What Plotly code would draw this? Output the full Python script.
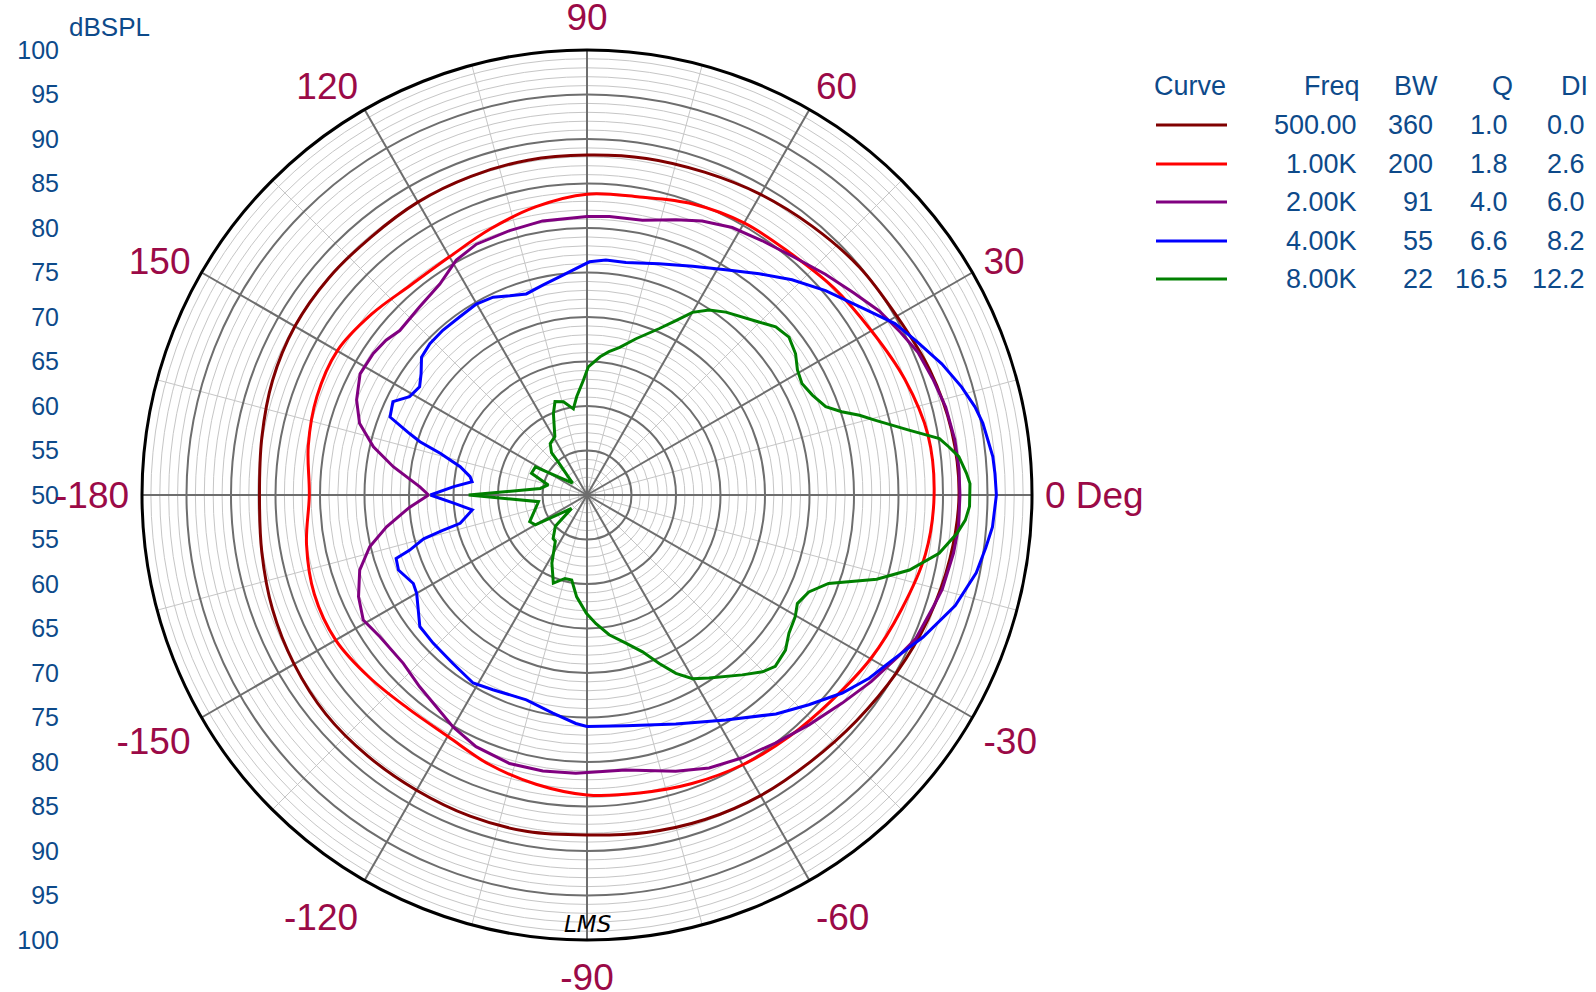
import plotly.graph_objects as go

# ---------------- data ----------------
ANG_TICKS = [0, 30, 60, 90, 120, 150, 180, 210, 240, 270, 300, 330]
ANG_LABELS = ["0 Deg", "30", "60", "90", "120", "150", "-180", "-150", "-120", "-90", "-60", "-30"]
SIDE_TICKS = [50, 45, 40, 35, 30, 25, 20, 15, 10, 5, 0, -5, -10, -15, -20, -25, -30, -35, -40, -45, -50]
SIDE_LABELS = ["100", "95", "90", "85", "80", "75", "70", "65", "60", "55", "50",
               "55", "60", "65", "70", "75", "80", "85", "90", "95", "100"]

THETA_500 = [-180, -170, -160, -150, -140, -130, -120, -110, -100, -90, -80, -70, -60, -50, -40, -30, -20, -10,
             0, 10, 20, 30, 40, 50, 60, 70, 80, 90, 100, 110, 120, 130, 140, 150, 160, 170, 180]
SPL_500 = [86.8, 87.1, 87.6, 88.0, 88.3, 88.3, 88.3, 88.4, 88.4, 88.2, 88.5, 88.8, 89.0, 89.1, 89.5, 90.1, 90.8, 91.4,
           91.8, 91.6, 91.0, 90.2, 89.9, 89.4, 89.0, 88.6, 88.4, 88.2, 88.2, 88.1, 88.0, 87.8, 87.9, 87.9, 87.6, 87.1, 86.8]

THETA_1K = THETA_500
SPL_1K = [81.2, 82.0, 82.6, 82.6, 81.9, 81.3, 81.3, 82.2, 83.0, 83.7, 84.0, 84.5, 85.0, 85.4, 85.9, 86.8, 87.6, 88.6,
          89.0, 88.9, 88.0, 86.9, 86.2, 85.5, 85.3, 84.8, 84.0, 83.8, 82.9, 81.8, 80.9, 80.8, 81.6, 82.4, 82.3, 81.8, 81.2]

THETA_2K = [-180, -176, -171, -166.6, -161.7, -156, -150.8, -145.6, -137.5, -131.1, -125.5, -120, -113.8, -106.1,
            -99.1, -92.3, -82, -72.2, -65.9, -59.4, -52.8, -46, -39.2, -33.3, -27.4, -23.7, -17.8, -14.9, -9, -4.9,
            0, 4, 8.5, 13.8, 18.4, 23.3, 27.4, 32.2, 37.2, 42.8, 49.2, 55.4, 61.5, 67.2, 72.1, 78.6, 85.4, 90,
            99.2, 106.3, 113.8, 119.1, 124.9, 131.7, 138.7, 142.4, 146.5, 151.9, 157.6, 162.5, 167.3, 171.7, 177.2, 180]
SPL_2K = [67.8, 70.0, 72.8, 75.1, 76.9, 78.1, 78.8, 78.2, 78.0, 78.6, 79.2, 80.1, 80.9, 81.4,
          81.4, 81.3, 81.2, 82.6, 83.6, 84.3, 85.0, 85.9, 87.0, 88.2, 89.4, 90.3, 90.9, 91.3, 91.7, 91.9,
          91.9, 91.9, 91.8, 91.5, 91.0, 90.5, 89.7, 88.8, 87.6, 86.5, 85.4, 84.7, 84.2, 83.4, 82.5, 81.5, 81.4, 81.3,
          81.2, 80.95, 80.8, 80.2, 78.9, 78.3, 78.0, 78.5, 78.8, 78.9, 78.0, 76.8, 74.6, 72.0, 68.8, 67.8]

THETA_4K = [-180, -176.5, -172.6, -167.4, -166.2, -165, -162.7, -161.6, -158.3, -153, -150, -141.8, -136.1, -128.5,
            -121.2, -115.8, -106.5, -98.9, -92.8, -90, -80.4, -68.8, -58.3, -49.2, -43.4, -37.8, -33, -28.4, -22.9,
            -16.7, -11.3, -7.5, -4.5, 0, 3, 5.4, 10.3, 12.8, 16.1, 20.3, 25.2, 29.1, 33.2, 40.6, 46.4, 52.1, 58.4,
            65.2, 72.7, 80.5, 85.4, 89.4, 97.2, 101.9, 106.8, 111.2, 115.4, 120.1, 125.6, 131.2, 136.1, 140.2, 143.8,
            147.1, 151, 154.3, 158.4, 160.9, 162.3, 164.2, 167.4, 171.1, 173.4, 176.4, 180]
SPL_4K = [67.6, 65.0, 63.0, 64.6, 66.7, 69.0, 70.9, 72.6, 72.8, 71.9, 72.1, 73.9, 74.0, 74.2,
          74.7, 74.3, 74.0, 74.8, 75.7, 76.0, 76.3, 77.6, 79.7, 82.5, 84.3, 86.3, 87.8, 89.0, 91.0,
          93.2, 94.6, 95.2, 95.7, 96.0, 95.9, 95.8, 95.2, 94.7, 93.8, 92.5, 90.8, 89.6, 87.8, 85.3, 83.4, 81.5, 79.7,
          78.3, 77.2, 76.5, 76.5, 76.2, 74.7, 74.1, 73.6, 74.0, 74.6, 74.8, 74.6, 74.6, 74.5, 74.2, 73.1,
          72.4, 72.8, 74.2, 73.8, 71.1, 69.7, 67.1, 64.6, 63.3, 63.0, 65.0, 67.6]

THETA_8K = [-180, -172.2, -155, -150, -139, -135.3, -127.9, -124.4, -117.3, -110.9, -104.8, -100.2, -95.8, -90.3,
            -86, -81, -75.3, -70.5, -66.8, -63.5, -60.1, -56.3, -49.2, -45.2, -42.3, -38, -34.4, -30.3, -27.3,
            -23.6, -20.1, -16.2, -13.1, -9.4, -5.9, -3.8, -1.7, 1.7, 3.3, 5.9, 7.6, 9.1, 11.4, 14.5, 16.3, 18.1,
            20.3, 23.9, 27.4, 30.7, 34.1, 38, 41.7, 45.2, 52.8, 56.6, 60, 63, 66.5, 72.6, 77.5, 81.3, 84.6, 89.4,
            91.8, 96, 99, 104.2, 108.9, 112.4, 118.8, 125.6, 130, 131, 140.7, 151.4, 158.6, 165.5, 172, 180]
SPL_8K = [63.3, 55.5, 57.1, 56.7, 52.3, 55.0, 56.2, 56.3, 58.6, 60.6, 59.7, 59.7, 61.5, 63.3,
          64.5, 65.9, 67.2, 68.7, 70.6, 72.4, 73.8, 74.7, 76.7, 78.0, 78.6, 78.3, 77.5, 77.1, 76.6,
          77.2, 78.9, 83.9, 87.2, 90.1, 91.8, 92.6, 93.0, 93.05, 92.7, 92.0, 91.0, 90.1, 86.9, 83.5, 81.9, 80.1,
          78.6, 77.7, 77.2, 77.5, 78.3, 78.8, 78.4, 77.4, 75.8, 74.9, 73.7, 72.0, 70.4, 68.4, 67.0, 66.3, 65.6, 64.4,
          62.9, 61.1, 59.8, 60.8, 61.1, 59.9, 57.5, 57.1, 56.2, 55.0, 52.1, 56.6, 56.7, 54.5, 55.3, 63.3]

CURVE_NAMES = ["500 Hz", "1 kHz", "2 kHz", "4 kHz", "8 kHz"]
CURVE_COLORS = ["#800000", "#ff0000", "#800080", "#0000ff", "#008000"]
FREQ = ["500.00", "1.00K", "2.00K", "4.00K", "8.00K"]
BW = ["360", "200", "91", "55", "22"]
QV = ["1.0", "1.8", "4.0", "6.6", "16.5"]
DI = ["0.0", "2.6", "6.0", "8.2", "12.2"]
HEADERS = ["Curve", "Freq", "BW", "Q", "DI"]

# ---------------- styling / geometry ----------------
W, H = 1596, 992
CX, CY, R = 587, 495, 445
DOM_X = [(CX - R) / W, (CX + R) / W]
DOM_Y = [1 - (CY + R) / H, 1 - (CY - R) / H]
FONT = "Liberation Sans, Arial, sans-serif"
TXT = "#0d4a8a"
ANG_COL = "#9b0a47"
LEG_SIZE = 27

fig = go.Figure()

# minor grid subplot (below)
fig.add_trace(go.Scatterpolar(r=[None], theta=[None], subplot="polar", showlegend=False, hoverinfo="skip"))

series = [(THETA_500, SPL_500, "spline"), (THETA_1K, SPL_1K, "spline"), (THETA_2K, SPL_2K, "linear"),
          (THETA_4K, SPL_4K, "linear"), (THETA_8K, SPL_8K, "linear")]
for (th, rr, shp), name, col in zip(series, CURVE_NAMES, CURVE_COLORS):
    fig.add_trace(go.Scatterpolar(r=rr, theta=th, mode="lines", name=name, subplot="polar2",
                                  line=dict(color=col, width=3, shape=shp), showlegend=False))

# dummy cartesian trace for the side scale
fig.add_trace(go.Scatter(x=[None], y=[None], showlegend=False, hoverinfo="skip"))

fig.update_layout(
    template="none",
    width=W, height=H,
    margin=dict(l=0, r=0, t=0, b=0),
    paper_bgcolor="white",
    plot_bgcolor="rgba(0,0,0,0)",
    showlegend=False,
    font=dict(family=FONT, color=TXT),
    polar=dict(
        domain=dict(x=DOM_X, y=DOM_Y),
        bgcolor="white",
        radialaxis=dict(range=[50, 100], tickvals=[v for v in range(51, 100) if v % 5],
                        showticklabels=False, ticks="", showline=False,
                        gridcolor="#c6c6c6", gridwidth=1),
        angularaxis=dict(tickvals=[a for a in range(0, 360, 15) if a % 30], showticklabels=False, ticks="",
                         showline=False, gridcolor="#c6c6c6", gridwidth=1),
    ),
    polar2=dict(
        domain=dict(x=DOM_X, y=DOM_Y),
        bgcolor="rgba(0,0,0,0)",
        radialaxis=dict(range=[50, 100], tickvals=list(range(55, 100, 5)), showticklabels=False, ticks="",
                        showline=False, gridcolor="#6e6e6e", gridwidth=1.6, layer="below traces"),
        angularaxis=dict(tickvals=ANG_TICKS, ticktext=ANG_LABELS, ticks="outside", ticklen=4,
                         tickcolor="rgba(0,0,0,0)",
                         tickfont=dict(size=37, color=ANG_COL, family=FONT),
                         showline=True, linecolor="black", linewidth=3,
                         gridcolor="#6e6e6e", gridwidth=1.6, layer="below traces"),
    ),
    xaxis=dict(domain=[0, 0.01], visible=False),
    yaxis=dict(domain=DOM_Y, range=[-50, 50], tickvals=SIDE_TICKS, ticktext=SIDE_LABELS,
               anchor="free", position=59 / W, showgrid=False, zeroline=False, showline=False, ticks="",
               tickfont=dict(size=25, color=TXT, family=FONT)),
)

ann = [dict(text="dBSPL", x=67 / W, y=1 - 27 / H, xref="paper", yref="paper", xanchor="left", yanchor="middle",
            showarrow=False, font=dict(size=26, color=TXT, family=FONT)),
       dict(text="<i>LMS</i>", x=587 / W, y=1 - 924 / H, xref="paper", yref="paper", xanchor="center",
            yanchor="middle", showarrow=False, font=dict(size=23, color="black", family="DejaVu Sans"))]

HDR_Y = 86
ROW_Y = [125, 164, 202, 241, 279]
COL_RIGHT = [None, 1359, 1435, 1510, 1587]
HDR_RIGHT = [None, 1362, 1440, 1515, 1590]
ann.append(dict(text=HEADERS[0], x=1152 / W, y=1 - HDR_Y / H, xref="paper", yref="paper", xanchor="left",
                yanchor="middle", showarrow=False, font=dict(size=LEG_SIZE, color=TXT, family=FONT)))
for j in range(1, 5):
    ann.append(dict(text=HEADERS[j], x=HDR_RIGHT[j] / W, y=1 - HDR_Y / H, xref="paper", yref="paper",
                    xanchor="right", yanchor="middle", showarrow=False,
                    font=dict(size=LEG_SIZE, color=TXT, family=FONT)))
shapes = []
for i in range(5):
    yy = 1 - ROW_Y[i] / H
    shapes.append(dict(type="line", xref="paper", yref="paper", x0=1156 / W, x1=1227 / W, y0=yy, y1=yy,
                       line=dict(color=CURVE_COLORS[i], width=3)))
    for j, col in enumerate([FREQ, BW, QV, DI], start=1):
        ann.append(dict(text=col[i], x=COL_RIGHT[j] / W, y=yy, xref="paper", yref="paper", xanchor="right",
                        yanchor="middle", showarrow=False, font=dict(size=LEG_SIZE, color=TXT, family=FONT)))

fig.update_layout(annotations=ann, shapes=shapes)

fig.write_html("out.html", config={"displayModeBar": False},
               post_script="document.body.style.margin='0';document.body.style.overflow='hidden';")
